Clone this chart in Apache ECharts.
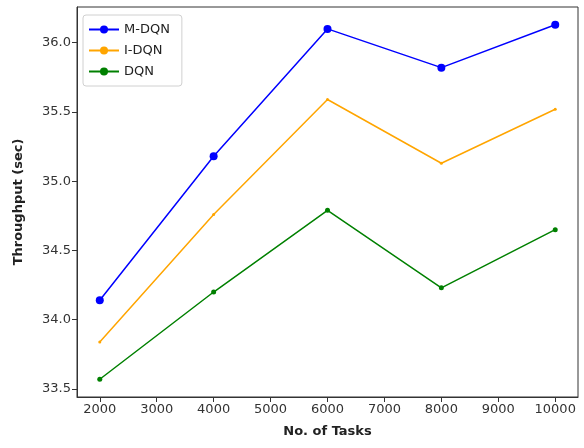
<!DOCTYPE html>
<html>
<head>
<meta charset="utf-8">
<script src="https://cdn.jsdelivr.net/npm/echarts@6/dist/echarts.min.js"></script>
<style>html,body{margin:0;padding:0;background:#fff}#c{width:584px;height:448px}</style>
</head>
<body>
<div id="c"></div>
<script>
var tasks = [2000, 4000, 6000, 8000, 10000];
var mdqn = [34.14, 35.18, 36.10, 35.82, 36.13];
var idqn = [33.84, 34.76, 35.59, 35.13, 35.52];
var dqn = [33.57, 34.20, 34.79, 34.23, 34.65];
var xTicks = [2000, 3000, 4000, 5000, 6000, 7000, 8000, 9000, 10000];
var yTicks = [33.5, 34.0, 34.5, 35.0, 35.5, 36.0];

function pairs(xs, ys) { return xs.map(function (x, i) { return [x, ys[i]]; }); }

var chart = echarts.init(document.getElementById('c'), null, { renderer: 'canvas' });
var font = 'DejaVu Sans';
chart.setOption({
  animation: false,
  backgroundColor: '#fff',
  grid: { left: 77, right: 6, top: 7, bottom: 51, show: true, borderColor: '#333', borderWidth: 1 },
  legend: {
    orient: 'vertical', left: 83, top: 15,
    itemWidth: 30, itemHeight: 10, itemGap: 8,
    padding: [8, 12, 8, 5],
    borderColor: '#d0d0d0', borderWidth: 1, borderRadius: 3,
    backgroundColor: '#fff',
    textStyle: { fontFamily: font, fontSize: 13, color: '#222' },
    data: ['M-DQN', 'I-DQN', 'DQN']
  },
  xAxis: {
    type: 'value', min: 1600, max: 10400,
    name: 'No. of Tasks', nameLocation: 'middle', nameGap: 28,
    nameTextStyle: { fontFamily: font, fontSize: 13, fontWeight: 'bold', color: '#222' },
    axisLine: { show: true, onZero: false, lineStyle: { color: '#333' } },
    axisTick: { show: true, length: 5, customValues: xTicks, lineStyle: { color: '#333' } },
    axisLabel: { customValues: xTicks, fontFamily: font, fontSize: 13, color: '#333', margin: 6,
      formatter: function (v) { return String(v); } },
    splitLine: { show: false }
  },
  yAxis: {
    type: 'value', min: 33.442, max: 36.258,
    name: 'Throughput (sec)', nameLocation: 'middle', nameGap: 52, nameRotate: 90,
    nameTextStyle: { fontFamily: font, fontSize: 13, fontWeight: 'bold', color: '#222' },
    axisLine: { show: true, onZero: false, lineStyle: { color: '#333' } },
    axisTick: { show: true, length: 5, customValues: yTicks, lineStyle: { color: '#333' } },
    axisLabel: { customValues: yTicks, fontFamily: font, fontSize: 13, color: '#333', margin: 6,
      formatter: function (v) { return v.toFixed(1); } },
    splitLine: { show: false }
  },
  series: [
    { name: 'M-DQN', type: 'line', data: pairs(tasks, mdqn), color: '#0000ff',
      symbol: 'circle', symbolSize: 8, lineStyle: { width: 1.5 } },
    { name: 'I-DQN', type: 'line', data: pairs(tasks, idqn), color: '#ffa500',
      symbol: 'circle', symbolSize: 3, lineStyle: { width: 1.5 } },
    { name: 'DQN', type: 'line', data: pairs(tasks, dqn), color: '#008000',
      symbol: 'circle', symbolSize: 5, lineStyle: { width: 1.5 } }
  ]
});
</script>
</body>
</html>
